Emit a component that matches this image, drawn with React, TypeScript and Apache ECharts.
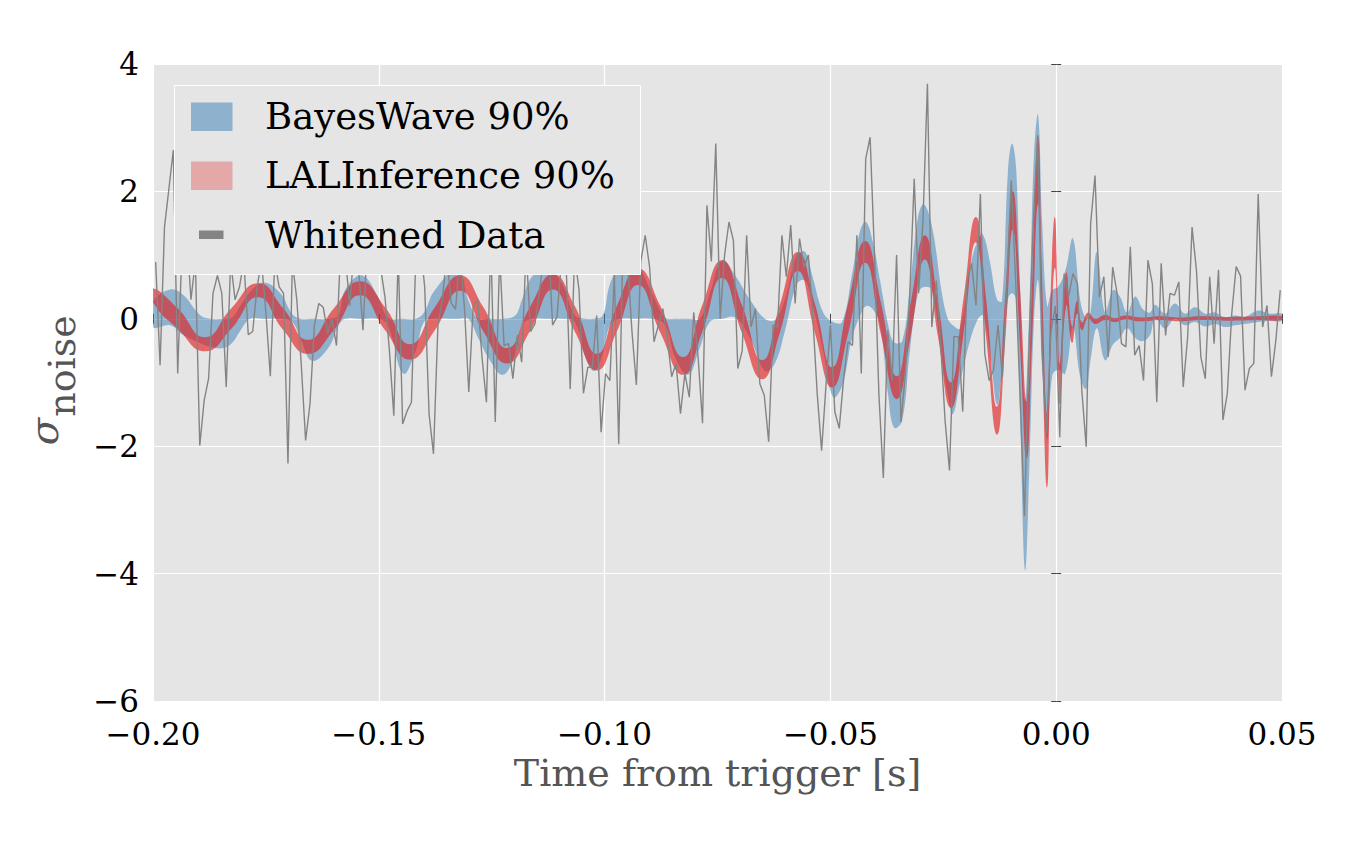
import React, { useEffect, useRef } from "react";
import * as echarts from "echarts";

const FONT = "DejaVu Serif";

// Axis ranges / ticks
const X_MIN = -0.2;
const X_MAX = 0.05;
const X_STEP = 0.05;
const Y_MIN = -6;
const Y_MAX = 4;
const Y_STEP = 2;

// Whitened data: sampled at 1024 Hz
const SAMPLE_RATE = 1024;
const GRAY_T0 = -0.19941;
const grayValues = [
  0.89, -0.73, 1.44, 2.04, 2.65, -0.86, 1.2, 1.4, 0.3, 0.9, -1.99, -1.28, -0.94, 0.4, 0.68, 0.4,
  -1.07, 0.9, 0.3, 0.5, 0.9, -0.25, -0.2, 0.5, 0.9, 0.1, -0.9, 0.9, 0.5, 0.4, -2.27, 0.9,
  0.3, -0.7, -1.91, -1.33, -0.1, 0.24, 0.18, -0.23, 0.0, -0.42, 1.2, 1.0, 0.2, 1.1, 0.8, -0.18,
  1.2, 0.9, 1.2, 0.8, 0.34, -0.5, -1.52, 1.0, -1.65, -1.45, -1.31, 1.0, 1.2, 0.5, -1.5, -2.12,
  -0.1, 0.3, 1.0, 0.25, 0.15, 1.0, 0.2, -1.15, 0.2, 0.3, -0.6, -1.31, 1.2, -1.62, 1.0, -0.42,
  -0.39, -0.94, -0.26, -0.68, 1.1, -0.2, -0.08, 0.4, 1.0, 1.3, -0.1, 0.03, 0.9, 1.0, -1.1, 1.0,
  0.45, -1.17, -0.76, -0.76, 0.05, -1.78, -0.86, -0.97, 0.7, -1.97, 1.3, 0.9, -0.2, -1.04, 0.9, 1.31,
  0.81, -0.36, -0.1, 0.16, -0.3, -0.91, -0.7, -1.49, -0.86, -1.23, 0.1, -0.6, -1.64, 1.78, 0.9, 2.75,
  0.0, 1.0, 1.52, 1.23, -0.78, -0.5, 1.31, -0.13, 0.16, -1.02, -1.2, -1.93, -0.1, -0.13, 1.31, 0.66,
  1.47, 0.24, 1.26, 0.81, 1.0, 0.03, -1.17, -2.07, -1.04, -0.1, -1.46, -1.72, -0.94, -0.36, -0.42, 1.31,
  -0.86, 2.51, 2.85, 1.0, -1.2, -2.5, -0.18, -0.97, 1.0, -1.62, -0.86, 0.4, 2.2, 0.4, 1.55, 3.69,
  -0.13, 0.6, -0.39, -1.6, -2.38, -0.28, -0.28, -1.46, 0.6, 0.87, 0.21, 1.96, -0.55, -0.97, -0.8, -0.1,
  -0.91, 0.5, 2.17, 0.6, -1.2, -3.1, -0.5, 1.5, 2.88, -0.5, -1.8, -0.2, 0.2, -1.86, 0.71, 0.35,
  0.71, 0.55, -1.12, -2.01, 1.49, 2.25, 0.34, 0.66, -0.6, 0.81, 0.4, -0.39, -0.44, 1.13, -0.57, -0.42,
  -0.97, 0.92, 0.55, -1.31, 0.87, -0.26, 0.4, 0.37, 0.58, -1.07, -0.29, 1.44, 0.76, -0.6, -0.94, 0.66,
  -0.39, 0.77, -1.59, -1.17, 0.08, 0.82, 0.67, -1.12, -0.78, -0.7, 1.96, -0.13, 0.21, -0.91, -0.34, 0.45,
];

// LALInference 90% band
const redT = [
  -0.2, -0.1945, -0.1885, -0.1827, -0.1767, -0.1712, -0.1657, -0.1599, -0.1542, -0.1486,
  -0.1431, -0.1376, -0.132, -0.1269, -0.1216, -0.1165, -0.1114, -0.1066, -0.1017, -0.0973,
  -0.0926, -0.0877, -0.0826, -0.0784, -0.074, -0.0696, -0.0651, -0.0612, -0.0572, -0.0534,
  -0.0496, -0.0461, -0.0423, -0.0388, -0.0353, -0.0322, -0.0291, -0.0262, -0.0233, -0.0206,
  -0.0178, -0.0155, -0.0131, -0.0113, -0.0096, -0.008, -0.0065, -0.0054, -0.004, -0.0031,
  -0.002, -0.0012, -0.0003, 0.0003, 0.0008, 0.0022, 0.0035, 0.0046, 0.0057, 0.007,
  0.0086, 0.0108, 0.013, 0.0152, 0.0186, 0.023, 0.0274, 0.0318, 0.0385, 0.0451, 0.05,
];
const redLow = [
  0.26, -0.16, -0.51, -0.16, 0.34, -0.17, -0.55, -0.17, 0.37, -0.18,
  -0.64, -0.18, 0.44, -0.19, -0.7, -0.19, 0.46, -0.2, -0.81, -0.2,
  0.53, -0.21, -0.88, -0.21, 0.64, -0.22, -0.95, -0.22, 0.75, -0.23,
  -1.08, -0.24, 0.88, -0.25, -1.26, -0.26, 0.93, -0.27, -1.4, -0.28,
  1.2, -0.3, -1.82, -0.35, 1.4, -0.45, -2.2, -0.45, 1.8, -0.55,
  -2.65, -0.45, 0.8, -0.35, -1.33, 0.2, -0.38, 0.08, -0.18, 0.0,
  -0.08, -0.02, -0.05, -0.01, -0.04, -0.02, -0.04, -0.02, -0.03, -0.02, -0.02,
];
const redHigh = [
  0.48, 0.16, -0.29, 0.16, 0.56, 0.17, -0.33, 0.17, 0.59, 0.18,
  -0.4, 0.18, 0.68, 0.19, -0.46, 0.19, 0.7, 0.2, -0.55, 0.2,
  0.79, 0.21, -0.6, 0.21, 0.92, 0.22, -0.65, 0.22, 1.05, 0.23,
  -0.76, 0.24, 1.22, 0.25, -0.9, 0.26, 1.31, 0.27, -1.0, 0.28,
  1.6, 0.3, -1.38, 0.35, 2.0, 0.45, -1.3, 0.45, 2.85, 0.55,
  -1.5, 0.45, 1.6, 0.35, -0.7, 0.72, -0.12, 0.28, -0.06, 0.1,
  0.0, 0.06, 0.01, 0.05, 0.02, 0.04, 0.02, 0.04, 0.03, 0.04, 0.04,
];

// BayesWave 90% band
const blueT = [
  -0.2, -0.1962, -0.1934, -0.1896, -0.1874, -0.1845, -0.1825, -0.1807, -0.1785, -0.1756,
  -0.1719, -0.1692, -0.1674, -0.1648, -0.1612, -0.159, -0.1575, -0.1537, -0.1502, -0.148,
  -0.1446, -0.1418, -0.14, -0.1376, -0.1325, -0.1302, -0.128, -0.1254, -0.1225, -0.1198,
  -0.1183, -0.1161, -0.1128, -0.1094, -0.1066, -0.1043, -0.1023, -0.1004, -0.0988, -0.0966,
  -0.0933, -0.0895, -0.0866, -0.0844, -0.0815, -0.0789, -0.0767, -0.074, -0.0711, -0.0678,
  -0.0645, -0.0623, -0.0601, -0.0574, -0.0556, -0.0539, -0.0516, -0.0494, -0.0474, -0.0452,
  -0.0434, -0.0421, -0.0406, -0.039, -0.0372, -0.0359, -0.0341, -0.0324, -0.0306, -0.0293,
  -0.0275, -0.0253, -0.024, -0.0229, -0.0213, -0.0191, -0.0173, -0.0162, -0.0147, -0.0131,
  -0.012, -0.0107, -0.0098, -0.0089, -0.008, -0.0069, -0.0058, -0.0049, -0.004, -0.0031,
  -0.002, -0.0009, 0.0004, 0.002, 0.0037, 0.0053, 0.0066, 0.0075, 0.009, 0.0108,
  0.0126, 0.0141, 0.0157, 0.0175, 0.0192, 0.0208, 0.0219, 0.0241, 0.0263, 0.0285,
  0.0307, 0.033, 0.0352, 0.0374, 0.0396, 0.0418, 0.0447, 0.0473, 0.05,
];
const blueLow = [
  -0.13, -0.1, -0.25, -0.38, -0.44, -0.46, -0.38, -0.19, 0.0, 0.0,
  0.0, -0.05, -0.3, -0.66, -0.46, -0.12, 0.0, 0.0, 0.0, -0.1,
  -0.86, -0.5, -0.05, 0.0, 0.0, 0.0, -0.3, -0.65, -0.88, -0.55,
  -0.1, 0.0, 0.0, 0.0, -0.05, -0.6, -0.82, -0.55, -0.1, 0.0,
  0.0, 0.0, -0.1, -0.6, -0.88, -0.45, -0.05, 0.0, 0.02, -0.3,
  -0.82, -0.7, -0.2, 0.55, 0.6, 0.2, -0.5, -1.23, -1.05, -0.3,
  0.05, 0.2, 0.15, -0.1, -1.2, -1.71, -1.6, -0.5, 0.4, 0.5,
  0.45, -0.66, -1.2, -1.5, -1.0, -0.35, 0.0, 0.05, -0.5, -1.35,
  -0.8, 0.3, 0.4, 0.3, -1.5, -3.95, -2.0, 0.0, 0.6, -0.8,
  -1.9, -0.9, -0.8, -0.86, -0.13, -0.9, -1.1, -0.7, -0.15, -0.65,
  -0.4, -0.3, -0.15, -0.3, -0.35, -0.25, 0.0, -0.15, 0.0, -0.1,
  -0.05, -0.12, -0.08, -0.13, -0.1, -0.08, -0.05, -0.03, -0.03,
];
const blueHigh = [
  0.26, 0.46, 0.38, 0.06, 0.0, 0.0, 0.02, 0.2, 0.42, 0.57,
  0.41, 0.08, 0.0, 0.0, 0.0, 0.05, 0.45, 0.68, 0.35, 0.02,
  0.0, 0.0, 0.1, 0.45, 0.78, 0.3, 0.0, 0.0, 0.0, 0.05,
  0.3, 0.66, 0.8, 0.55, 0.05, 0.0, 0.0, 0.05, 0.55, 0.8,
  0.88, 0.4, 0.02, 0.0, 0.0, 0.0, 0.4, 0.92, 0.68, 0.3,
  0.0, -0.02, 0.3, 1.0, 1.05, 0.65, 0.1, -0.05, -0.05, 0.7,
  1.39, 1.52, 1.2, 0.6, -0.1, -0.37, -0.35, 0.5, 1.6, 1.8,
  1.45, 0.4, 0.0, -0.1, -0.15, 0.8, 1.25, 1.32, 0.9, 0.3,
  0.28, 2.3, 2.75, 2.4, 0.5, -1.28, 0.5, 2.6, 3.2, 1.5,
  0.2, 0.45, 0.5, 0.75, 1.26, 0.3, 0.0, 0.05, 1.05, 0.1,
  0.45, 0.35, 0.1, 0.35, 0.15, 0.1, 0.22, 0.08, 0.24, 0.08,
  0.18, 0.08, 0.1, 0.02, 0.05, 0.03, 0.13, 0.08, 0.08,
];

const BLUE_FILL = "rgba(55,126,184,0.5)";
const RED_FILL = "rgba(228,26,28,0.62)";
const RED_LEGEND = "rgba(228,26,28,0.3)";
const GRAY = "#848484";

const fmtNum = (v: number, digits: number) => {
  const s = Math.abs(v).toFixed(digits);
  return (v < 0 && Number(s) !== 0 ? "\u2212" : "") + s;
};

function bandSeries(
  name: string,
  ts: number[],
  lo: number[],
  hi: number[],
  fill: string,
  z: number,
  smooth: number
) {
  return {
    type: "custom",
    name,
    z,
    silent: true,
    clip: true,
    data: [[ts[0], lo[0]]],
    renderItem: (_params: any, api: any) => {
      const upper = ts.map((t, i) => api.coord([t, hi[i]]));
      const lower = ts.map((t, i) => api.coord([t, lo[i]])).reverse();
      return {
        type: "polygon",
        shape: { points: upper.concat(lower), smooth },
        style: { fill, stroke: "none" },
      };
    },
  };
}

export default function App() {
  const ref = useRef<HTMLDivElement>(null);
  useEffect(() => {
    if (!ref.current) return;
    const chart = echarts.init(ref.current, null, { renderer: "svg" });
    const tickStyle = { show: true, length: 5, lineStyle: { color: "#444", width: 1 } };
    const option: any = {
      animation: false,
      backgroundColor: "#ffffff",
      grid: {
        left: 153,
        right: 79,
        top: 64,
        bottom: 140,
        show: true,
        backgroundColor: "#e5e5e5",
        borderWidth: 0,
      },
      xAxis: [
        {
          type: "value",
          min: X_MIN,
          max: X_MAX,
          interval: X_STEP,
          position: "bottom",
          axisLine: { show: false },
          axisTick: tickStyle,
          axisLabel: {
            fontFamily: FONT,
            fontSize: 31,
            color: "#000",
            margin: 17,
            formatter: (v: number) => fmtNum(v, 2),
          },
          splitLine: { show: true, lineStyle: { color: "#ffffff", width: 1.2 } },
          name: "Time from trigger [s]",
          nameLocation: "middle",
          nameGap: 52,
          nameTextStyle: { fontFamily: FONT, fontSize: 38, color: "#555555" },
        },
        {
          type: "value",
          min: X_MIN,
          max: X_MAX,
          interval: X_STEP,
          position: "top",
          axisLine: { show: false },
          axisTick: tickStyle,
          axisLabel: { show: false },
          splitLine: { show: false },
        },
      ],
      yAxis: [
        {
          type: "value",
          min: Y_MIN,
          max: Y_MAX,
          interval: Y_STEP,
          position: "left",
          axisLine: { show: false },
          axisTick: tickStyle,
          axisLabel: {
            fontFamily: FONT,
            fontSize: 31,
            color: "#000",
            margin: 14,
            formatter: (v: number) => fmtNum(v, 0),
          },
          splitLine: { show: true, lineStyle: { color: "#ffffff", width: 1.2 } },
        },
        {
          type: "value",
          min: Y_MIN,
          max: Y_MAX,
          interval: Y_STEP,
          position: "right",
          axisLine: { show: false },
          axisTick: tickStyle,
          axisLabel: { show: false },
          splitLine: { show: false },
        },
      ],
      series: [
        bandSeries("BayesWave 90%", blueT, blueLow, blueHigh, BLUE_FILL, 2, 0.4),
        bandSeries("LALInference 90%", redT, redLow, redHigh, RED_FILL, 3, 0.5),
        {
          type: "line",
          name: "Whitened Data",
          z: 4,
          silent: true,
          showSymbol: false,
          symbol: "none",
          data: grayValues.map((v, k) => [GRAY_T0 + k / SAMPLE_RATE, v]),
          lineStyle: { color: GRAY, width: 1.4 },
        },
      ],
      graphic: [
        {
          type: "rect",
          z: 100,
          shape: { x: 174.5, y: 85.5, width: 466, height: 189 },
          style: { fill: "#e5e5e5", stroke: "#ffffff", lineWidth: 1 },
        },
        {
          type: "rect",
          z: 101,
          shape: { x: 191, y: 102.5, width: 41.5, height: 28.5 },
          style: { fill: BLUE_FILL },
        },
        {
          type: "rect",
          z: 101,
          shape: { x: 191, y: 161.5, width: 41.5, height: 28.5 },
          style: { fill: RED_LEGEND },
        },
        {
          type: "rect",
          z: 101,
          shape: { x: 199, y: 230.5, width: 24.5, height: 8.5 },
          style: { fill: GRAY },
        },
        {
          type: "text",
          z: 101,
          x: 265,
          y: 116,
          style: { text: "BayesWave 90%", fontFamily: FONT, fontSize: 37, fill: "#000", align: "left", verticalAlign: "middle" },
        },
        {
          type: "text",
          z: 101,
          x: 265,
          y: 175.5,
          style: { text: "LALInference 90%", fontFamily: FONT, fontSize: 37, fill: "#000", align: "left", verticalAlign: "middle" },
        },
        {
          type: "text",
          z: 101,
          x: 265,
          y: 235.5,
          style: { text: "Whitened Data", fontFamily: FONT, fontSize: 37, fill: "#000", align: "left", verticalAlign: "middle" },
        },
        {
          type: "text",
          z: 101,
          x: 44,
          y: 431.5,
          rotation: Math.PI / 2,
          style: { text: "σ", fontFamily: FONT, fontStyle: "italic", fontSize: 40, fill: "#555555", align: "center", verticalAlign: "middle" },
        },
        {
          type: "text",
          z: 101,
          x: 62,
          y: 366,
          rotation: Math.PI / 2,
          style: { text: "noise", fontFamily: FONT, fontSize: 38, fill: "#555555", align: "center", verticalAlign: "middle" },
        },
      ],
    };
    chart.setOption(option);
    return () => chart.dispose();
  }, []);
  return (
    <div
      ref={ref}
      style={{ position: "fixed", left: 0, top: 0, width: 1361, height: 841, background: "#fff" }}
    />
  );
}
